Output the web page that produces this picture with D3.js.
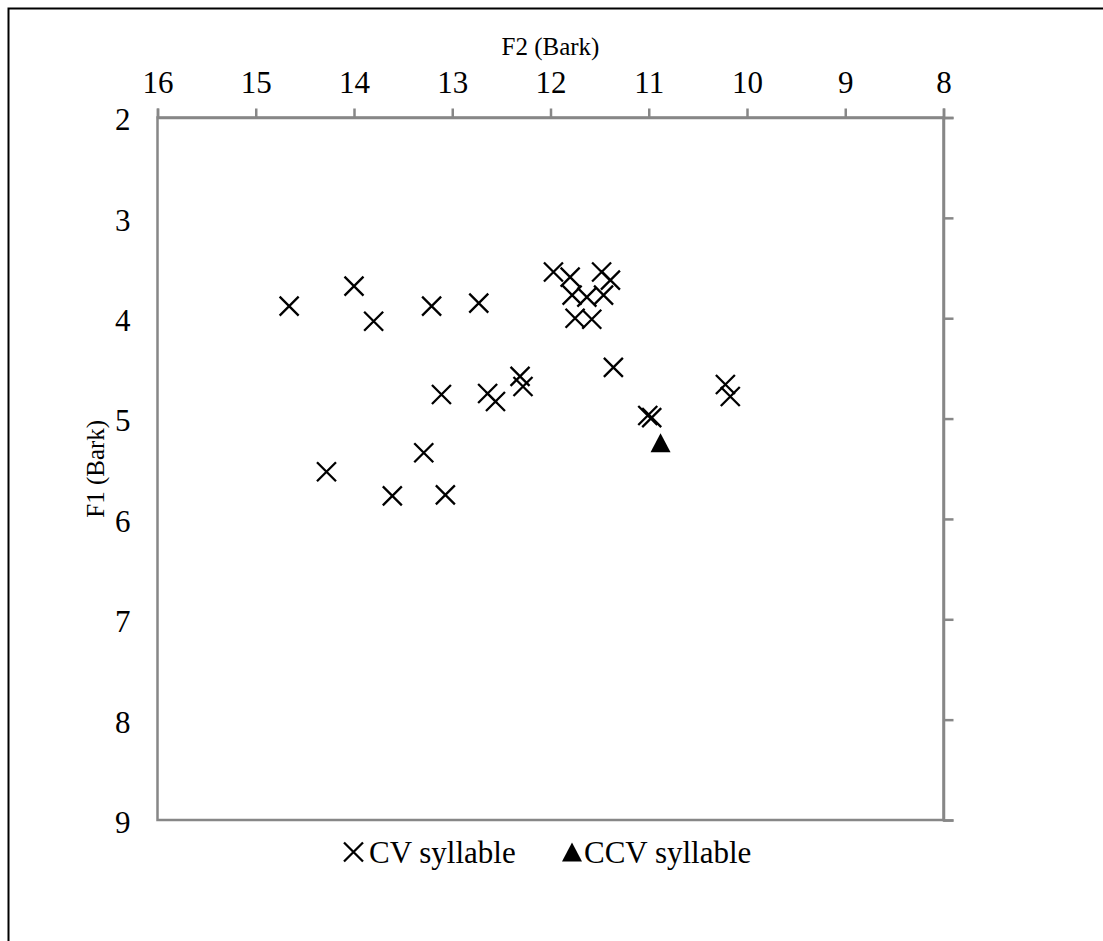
<!DOCTYPE html>
<html>
<head>
<meta charset="utf-8">
<script src="https://cdn.jsdelivr.net/npm/d3@7"></script>
<style>
  html, body { margin: 0; padding: 0; background: #fff; }
  svg { display: block; }
  text { font-family: "Liberation Serif", "Times New Roman", serif; fill: #000; }
</style>
</head>
<body>
<svg id="chart" width="1103" height="941"></svg>
<script>
// F2 / F1 vowel measurements (Bark)
const cvF2 = [14.66, 14.00, 13.80, 13.21, 12.73, 13.11, 12.64, 12.56, 12.31, 12.28,
              13.29, 14.28, 13.61, 13.07, 11.97, 11.80, 11.48, 11.39, 11.78, 11.63,
              11.46, 11.75, 11.58, 11.36, 11.01, 10.97, 10.22, 10.17];
const cvF1 = [3.88, 3.68, 4.03, 3.88, 3.85, 4.76, 4.75, 4.83, 4.58, 4.68,
              5.34, 5.53, 5.77, 5.76, 3.54, 3.59, 3.54, 3.62, 3.77, 3.79,
              3.77, 4.00, 4.01, 4.49, 4.97, 4.99, 4.66, 4.78];
const ccvF2 = [10.88];
const ccvF1 = [5.24];

const xTicks = [16, 15, 14, 13, 12, 11, 10, 9, 8];
const yTicks = [2, 3, 4, 5, 6, 7, 8, 9];
const seriesNames = ["CV syllable", "CCV syllable"];

const svg = d3.select("#chart");
const axisColor = "#878787";
const serif = "'Liberation Serif', 'Times New Roman', serif";
const plotLeft = 157.5, plotRight = 943.5, plotTop = 117.5, plotBottom = 820;

// F2 runs high-to-low left to right, F1 runs low-to-high top to bottom
const x = d3.scaleLinear().domain([16, 8]).range([plotLeft, plotRight]);
const y = d3.scaleLinear().domain([2, 9]).range([plotTop, plotBottom]);

// outer chart frame
svg.append("rect")
  .attr("x", 8.5).attr("y", 8.5)
  .attr("width", 1200).attr("height", 1100)
  .attr("fill", "none").attr("stroke", "#000").attr("stroke-width", 2);

// plot area border
svg.append("rect")
  .attr("x", plotLeft).attr("y", plotTop)
  .attr("width", plotRight - plotLeft).attr("height", plotBottom - plotTop)
  .attr("fill", "none").attr("stroke", axisColor).attr("stroke-width", 2.5);

// horizontal axis along the top
const gx = svg.append("g")
  .attr("transform", `translate(0,${plotTop})`)
  .call(d3.axisTop(x).tickValues(xTicks).tickFormat(d3.format("d"))
    .tickSize(9).tickSizeOuter(9).tickPadding(16));
gx.selectAll("path, line").attr("stroke", axisColor).attr("stroke-width", 2.5);
gx.selectAll("text").attr("font-size", 31)
  .style("font-family", serif).attr("fill", "#000");

// vertical axis along the right edge (ticks only)
const gy = svg.append("g")
  .attr("transform", `translate(${plotRight},0)`)
  .call(d3.axisRight(y).tickValues(yTicks).tickFormat("")
    .tickSize(10).tickSizeOuter(10));
gy.selectAll("path, line").attr("stroke", axisColor).attr("stroke-width", 2.5);

// vertical-axis labels sit on the left side
const gyl = svg.append("g")
  .attr("transform", `translate(${plotLeft},0)`)
  .call(d3.axisLeft(y).tickValues(yTicks).tickFormat(d3.format("d"))
    .tickSize(0).tickPadding(27));
gyl.select(".domain").remove();
gyl.selectAll("text").attr("font-size", 31).attr("dy", "0.4em")
  .style("font-family", serif).attr("fill", "#000");

// axis titles
svg.append("text")
  .attr("x", (plotLeft + plotRight) / 2).attr("y", 55)
  .attr("text-anchor", "middle").attr("font-size", 25)
  .text("F2 (Bark)");
svg.append("text")
  .attr("transform", `translate(104,${(plotTop + plotBottom) / 2}) rotate(-90)`)
  .attr("text-anchor", "middle").attr("font-size", 25)
  .text("F1 (Bark)");

// marker shapes
const half = 9.5;
function drawCross(g, cx, cy) {
  g.append("path")
    .attr("d", `M${cx - half},${cy - half}L${cx + half},${cy + half}M${cx - half},${cy + half}L${cx + half},${cy - half}`)
    .attr("stroke", "#000").attr("stroke-width", 2.3).attr("fill", "none");
}
function drawTriangle(g, cx, cy) {
  g.append("path")
    .attr("d", `M${cx},${cy - 9.5}L${cx + 10},${cy + 9.5}L${cx - 10},${cy + 9.5}Z`)
    .attr("fill", "#000");
}

const marks = svg.append("g");
cvF2.forEach((v, i) => drawCross(marks, x(v), y(cvF1[i])));
ccvF2.forEach((v, i) => drawTriangle(marks, x(v), y(ccvF1[i])));

// legend
const lg = svg.append("g");
const legendY = 852;
drawCross(lg, 353.5, legendY);
lg.append("text").attr("x", 369).attr("y", legendY + 11)
  .attr("font-size", 31).text(seriesNames[0]);
drawTriangle(lg, 572, legendY);
lg.append("text").attr("x", 584).attr("y", legendY + 11)
  .attr("font-size", 31).text(seriesNames[1]);
</script>
</body>
</html>
